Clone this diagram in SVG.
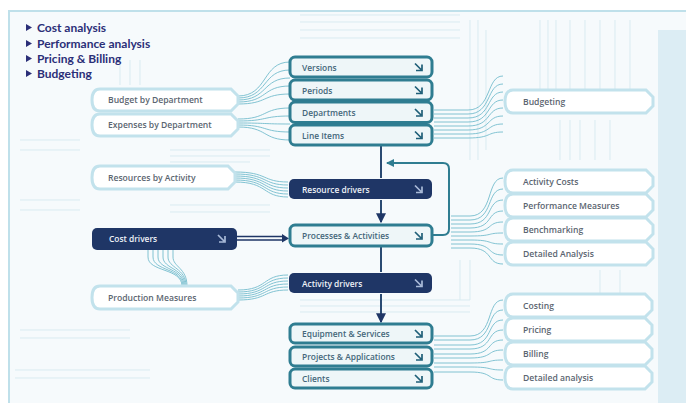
<svg xmlns="http://www.w3.org/2000/svg" width="686" height="403" viewBox="0 0 686 403">
<style>
.hdr{font-family:Lato,"Open Sans",sans-serif;font-weight:700;font-size:12px;fill:#2b2f78}
.pill{fill:#ffffff;stroke:#c2e2ec;stroke-width:3}
.ptxt{font-family:"Open Sans","DejaVu Sans",sans-serif;font-weight:600;font-size:8.6px;fill:#5b6570}
.cbox{fill:#eef6f8;stroke:#2f7d91;stroke-width:3}
.ctxt{font-family:"Open Sans","DejaVu Sans",sans-serif;font-weight:600;font-size:8.4px;fill:#44677a}
.dbox{fill:#1f3666}
.dtxt{font-family:"Open Sans","DejaVu Sans",sans-serif;font-weight:600;font-size:8.4px;fill:#eef2f8}
.fan{fill:none;stroke:#74bccd;stroke-width:0.9}
.bg{fill:none;stroke:#d9ebf1;stroke-width:1}
</style>
<defs>
<path id="ico" d="M0 0 L6 6 M7 1 V7 H1" fill="none" stroke-width="1.7"/>
<marker id="ah" viewBox="0 0 8 8" refX="7" refY="4" markerWidth="5" markerHeight="5" orient="auto">
<path d="M0 0 L8 4 L0 8 Z" fill="#1f3666"/>
</marker>
<marker id="ah2" viewBox="0 0 8 8" refX="7" refY="4" markerWidth="4" markerHeight="4" orient="auto">
<path d="M0 0 L8 4 L0 8 Z" fill="#2f7d91"/>
</marker>
</defs>

<!-- background -->
<rect x="0" y="0" width="686" height="403" fill="#ffffff"/>
<rect x="9" y="11" width="680" height="400" fill="#f6fafc" stroke="#bfe0ea" stroke-width="2"/>
<rect x="658" y="30" width="28" height="373" fill="#dcedf4"/>
<g class="bg">
<path d="M470 20 V160 M478 20 V160 M486 30 V150 M540 20 V90 M548 20 V90 M556 20 V90 M570 20 V90 M585 20 V90 M600 20 V90 M615 20 V90 M630 20 V90"/>
<path d="M300 15 H460 M300 22 H460 M300 30 H460 M300 38 H460"/>
<path d="M170 150 H270 M170 156 H270 M170 162 H250 M170 205 H270 M170 212 H270"/>
<path d="M300 300 H470 M300 306 H470 M300 312 H470 M20 330 H130 M20 338 H130 M15 370 H150 M15 378 H150"/>
<path d="M560 120 V160 M570 120 V160 M580 120 V160 M595 120 V160 M610 120 V160 M460 260 V300 M470 260 V300 M600 270 V295 M620 270 V295"/>
<path d="M120 60 V85 M130 60 V85 M140 60 V85 M20 140 H80 M20 150 H80 M20 200 H80 M20 210 H80"/>
</g>

<!-- header list -->
<g id="header">
<path d="M26 24 L32 27.5 L26 31 Z M26 40 L32 43.5 L26 47 Z M26 55 L32 58.5 L26 62 Z M26 70 L32 73.5 L26 77 Z" fill="#2b2f78"/>
<text class="hdr" x="37" y="32">Cost analysis</text>
<text class="hdr" x="37" y="48">Performance analysis</text>
<text class="hdr" x="37" y="63">Pricing &amp; Billing</text>
<text class="hdr" x="37" y="78">Budgeting</text>
</g>

<!-- connectors -->
<g id="connectors">
<g class="fan">
<path d="M238 96 C268 96 262 62 290 62"/>
<path d="M238 98 C268 98 262 70 290 70"/>
<path d="M238 100 C268 100 262 78 290 78"/>
<path d="M238 102 C268 102 262 86 290 86"/>
<path d="M238 104 C268 104 262 94 290 94"/>
<path d="M238 119 C268 119 262 108 290 108"/>
<path d="M238 121 C268 121 262 116 290 116"/>
<path d="M238 123 C268 123 262 124 290 124"/>
<path d="M238 125 C268 125 262 132 290 132"/>
<path d="M238 127 C268 127 262 140 290 140"/>

<path d="M235 172 C268 172 262 182 288 182"/>
<path d="M235 174 C268 174 262 185 288 185"/>
<path d="M235 176 C268 176 262 188 288 188"/>
<path d="M235 178 C268 178 262 191 288 191"/>
<path d="M235 180 C268 180 262 194 288 194"/>
<path d="M235 182 C268 182 262 197 288 197"/>

<path d="M238 290 C268 290 262 275 288 275"/>
<path d="M238 292 C268 292 262 278 288 278"/>
<path d="M238 294 C268 294 262 281 288 281"/>
<path d="M238 296 C268 296 262 284 288 284"/>
<path d="M238 298 C268 298 262 287 288 287"/>
<path d="M238 300 C268 300 262 290 288 290"/>

<path d="M148 250 V257 C148 272 182 268 182 286"/>
<path d="M153 250 V257 C153 271 183 268 183 286"/>
<path d="M158 250 V257 C158 270 184 268 184 286"/>
<path d="M163 250 V257 C163 269 185 268 185 286"/>
<path d="M168 250 V257 C168 268 186 268 186 286"/>
<path d="M173 250 V257 C173 267 187 268 187 286"/>

<path d="M434 110 H468 C492 110 486 76 503 76"/>
<path d="M434 114 H468 C492 114 486 84 503 84"/>
<path d="M434 118 H468 C492 118 486 92 503 92"/>
<path d="M434 122 H468 C492 122 486 100 503 100"/>
<path d="M434 126 H468 C492 126 486 108 503 108"/>
<path d="M434 130 H468 C492 130 486 116 503 116"/>
<path d="M434 134 H468 C492 134 486 124 503 124"/>
<path d="M434 138 H468 C492 138 486 132 503 132"/>

<path d="M451 216 H470 C494 216 486 178 503 178"/>
<path d="M451 220 H470 C494 220 486 189 503 189"/>
<path d="M451 224 H470 C494 224 486 200 503 200"/>
<path d="M451 228 H470 C494 228 486 211 503 211"/>
<path d="M451 232 H470 C494 232 486 222 503 222"/>
<path d="M451 236 H470 C494 236 486 233 503 233"/>
<path d="M451 240 H470 C494 240 486 244 503 244"/>
<path d="M451 244 H470 C494 244 486 255 503 255"/>
<path d="M451 248 H470 C494 248 486 264 503 264"/>

<path d="M434 336 H470 C494 336 486 300 503 300"/>
<path d="M434 340 H470 C494 340 486 310 503 310"/>
<path d="M434 345 H470 C494 345 486 320 503 320"/>
<path d="M434 349 H470 C494 349 486 330 503 330"/>
<path d="M434 354 H470 C494 354 486 340 503 340"/>
<path d="M434 358 H470 C494 358 486 350 503 350"/>
<path d="M434 363 H470 C494 363 486 360 503 360"/>
<path d="M434 367 H470 C494 367 486 370 503 370"/>
<path d="M434 372 H470 C494 372 486 380 503 380"/>
</g>
<!-- spine -->
<path d="M381 146 V178" fill="none" stroke="#2a4a72" stroke-width="2"/>
<path d="M381 200 V222" fill="none" stroke="#2a4a72" stroke-width="2" marker-end="url(#ah)"/>
<path d="M381 247 V272" fill="none" stroke="#2a4a72" stroke-width="2"/>
<path d="M381 294 V322" fill="none" stroke="#2a4a72" stroke-width="2" marker-end="url(#ah)"/>
<!-- feedback loop -->
<path d="M433 235 H443 Q449 235 449 229 V169 Q449 163 443 163 H387" fill="none" stroke="#2f7d91" stroke-width="2" marker-end="url(#ah2)"/>
<!-- cost drivers to processes -->
<path d="M237 236.5 H282 M237 240 H282" fill="none" stroke="#1f3666" stroke-width="1.3"/>
<path d="M282 234 L289 238.5 L282 242.5 Z" fill="#1f3666"/>
</g>

<!-- left nodes -->
<g id="budget-by-department"><path class="pill" d="M100 89 H231 L238 96 V104 L231 111 H100 Q92 111 92 100 Q92 89 100 89 Z"/><text class="ptxt" x="108" y="103">Budget by Department</text></g>
<g id="expenses-by-department"><path class="pill" d="M100 114 H231 L238 121 V129 L231 136 H100 Q92 136 92 125 Q92 114 100 114 Z"/><text class="ptxt" x="108" y="128">Expenses by Department</text></g>
<g id="resources-by-activity"><path class="pill" d="M100 166 H228 L235 173 V182 L228 189 H100 Q92 189 92 177.5 Q92 166 100 166 Z"/><text class="ptxt" x="108" y="180.5">Resources by Activity</text></g>
<g id="cost-drivers"><rect class="dbox" x="92" y="228" width="145" height="22" rx="5"/><text class="dtxt" x="109" y="242">Cost drivers</text><use href="#ico" x="218" y="235" stroke="#a9bad8"/></g>
<g id="production-measures"><path class="pill" d="M100 286 H231 L238 293 V302 L231 309 H100 Q92 309 92 297.5 Q92 286 100 286 Z"/><text class="ptxt" x="108" y="301">Production Measures</text></g>

<!-- center nodes -->
<g id="versions"><rect class="cbox" x="290" y="57" width="142" height="20" rx="5"/><text class="ctxt" x="302" y="70.5">Versions</text><use href="#ico" x="415" y="63.5" stroke="#1f5f78"/></g>
<g id="periods"><rect class="cbox" x="290" y="80" width="142" height="20" rx="5"/><text class="ctxt" x="302" y="93.5">Periods</text><use href="#ico" x="415" y="86.5" stroke="#1f5f78"/></g>
<g id="departments"><rect class="cbox" x="290" y="102" width="142" height="20.5" rx="5"/><text class="ctxt" x="302" y="115.5">Departments</text><use href="#ico" x="415" y="109" stroke="#1f5f78"/></g>
<g id="line-items"><rect class="cbox" x="290" y="125" width="142" height="20" rx="5"/><text class="ctxt" x="302" y="138.5">Line Items</text><use href="#ico" x="415" y="131.5" stroke="#1f5f78"/></g>
<g id="resource-drivers"><rect class="dbox" x="289" y="179" width="143" height="20" rx="5"/><text class="dtxt" x="302" y="192.5">Resource drivers</text><use href="#ico" x="415" y="185.5" stroke="#a9bad8"/></g>
<g id="processes-activities"><rect class="cbox" x="290" y="225" width="142" height="21" rx="5"/><text class="ctxt" x="302" y="238.8">Processes &amp; Activities</text><use href="#ico" x="415" y="232" stroke="#1f5f78"/></g>
<g id="activity-drivers"><rect class="dbox" x="289" y="273" width="143" height="20" rx="5"/><text class="dtxt" x="302" y="286.5">Activity drivers</text><use href="#ico" x="415" y="279.5" stroke="#a9bad8"/></g>
<g id="equipment-services"><rect class="cbox" x="290" y="324" width="142" height="19" rx="5"/><text class="ctxt" x="302" y="337">Equipment &amp; Services</text><use href="#ico" x="415" y="330" stroke="#1f5f78"/></g>
<g id="projects-applications"><rect class="cbox" x="290" y="347" width="142" height="19" rx="5"/><text class="ctxt" x="302" y="360">Projects &amp; Applications</text><use href="#ico" x="415" y="353" stroke="#1f5f78"/></g>
<g id="clients"><rect class="cbox" x="290" y="369" width="142" height="19" rx="5"/><text class="ctxt" x="302" y="382">Clients</text><use href="#ico" x="415" y="375" stroke="#1f5f78"/></g>

<!-- right nodes -->
<g id="budgeting"><path class="pill" d="M513 90 H646 L653 97 V106 L646 113 H513 Q505 113 505 101.5 Q505 90 513 90 Z"/><text class="ptxt" x="523" y="105">Budgeting</text></g>
<g id="activity-costs"><path class="pill" d="M513 170 H646 L653 177 V186 L646 193 H513 Q505 193 505 181.5 Q505 170 513 170 Z"/><text class="ptxt" x="523" y="185">Activity Costs</text></g>
<g id="performance-measures"><path class="pill" d="M513 194 H646 L653 201 V210 L646 217 H513 Q505 217 505 205.5 Q505 194 513 194 Z"/><text class="ptxt" x="523" y="209">Performance Measures</text></g>
<g id="benchmarking"><path class="pill" d="M513 218 H646 L653 225 V234 L646 241 H513 Q505 241 505 229.5 Q505 218 513 218 Z"/><text class="ptxt" x="523" y="233">Benchmarking</text></g>
<g id="detailed-analysis-1"><path class="pill" d="M513 242 H646 L653 249 V258 L646 265 H513 Q505 265 505 253.5 Q505 242 513 242 Z"/><text class="ptxt" x="523" y="257">Detailed  Analysis</text></g>
<g id="costing"><path class="pill" d="M513 294 H645 L652 301 V310 L645 317 H513 Q505 317 505 305.5 Q505 294 513 294 Z"/><text class="ptxt" x="523" y="309">Costing</text></g>
<g id="pricing"><path class="pill" d="M513 318 H645 L652 325 V334 L645 341 H513 Q505 341 505 329.5 Q505 318 513 318 Z"/><text class="ptxt" x="523" y="333">Pricing</text></g>
<g id="billing"><path class="pill" d="M513 342 H645 L652 349 V358 L645 365 H513 Q505 365 505 353.5 Q505 342 513 342 Z"/><text class="ptxt" x="523" y="357">Billing</text></g>
<g id="detailed-analysis-2"><path class="pill" d="M513 366 H645 L652 373 V382 L645 389 H513 Q505 389 505 377.5 Q505 366 513 366 Z"/><text class="ptxt" x="523" y="381">Detailed analysis</text></g>
</svg>
